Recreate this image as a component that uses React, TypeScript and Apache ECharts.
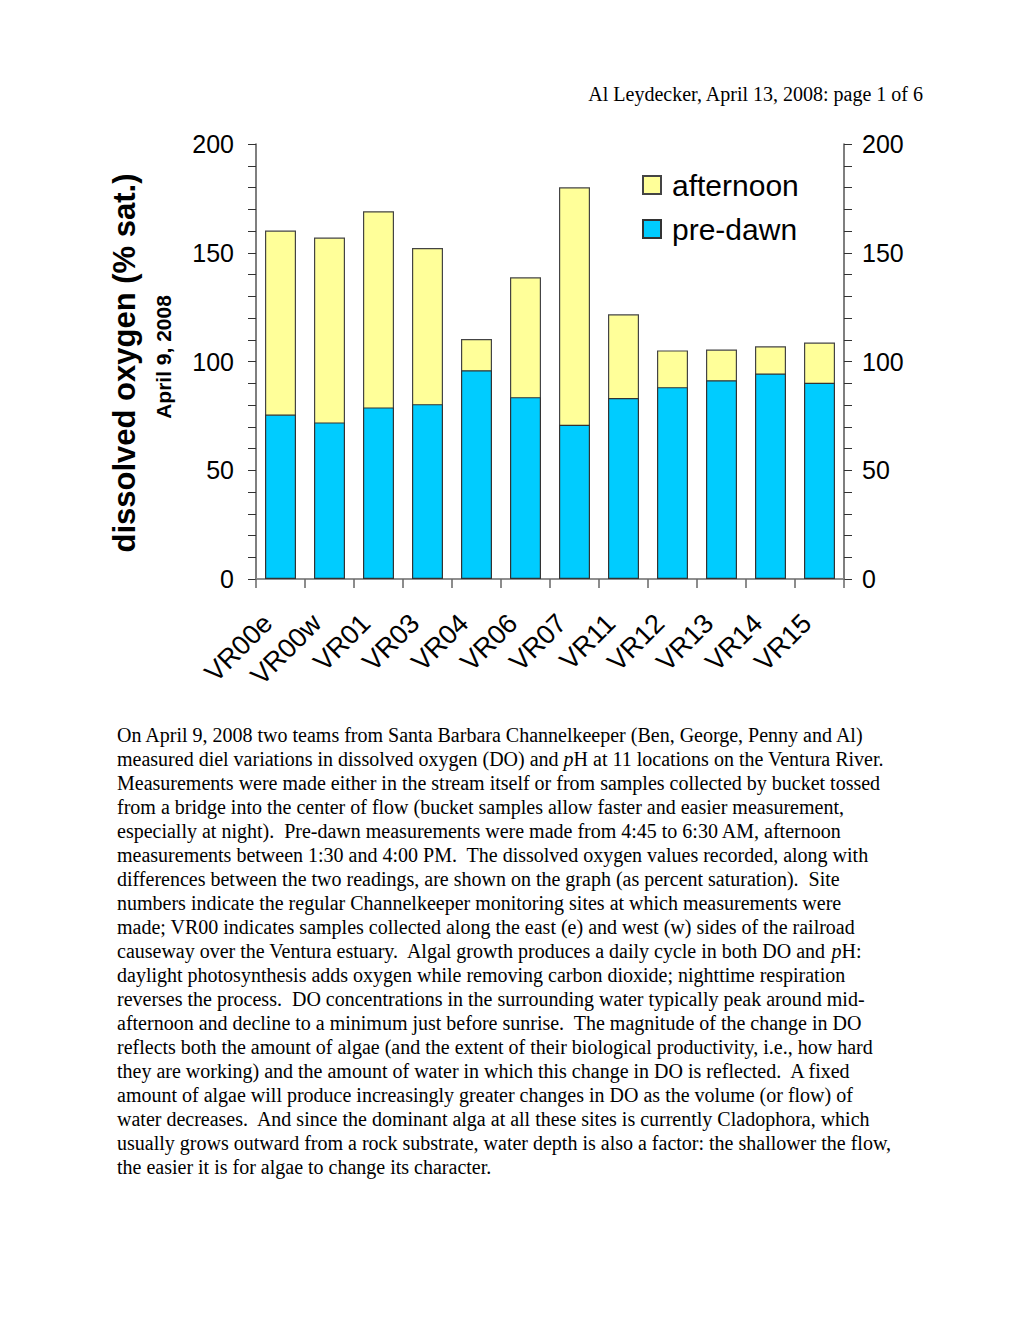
import React, { useEffect, useRef } from "react";
import * as echarts from "echarts";

const sites = ["VR00e", "VR00w", "VR01", "VR03", "VR04", "VR06", "VR07", "VR11", "VR12", "VR13", "VR14", "VR15"];
const preDawn = [75.6, 72.0, 78.9, 80.4, 96.0, 83.6, 70.9, 83.2, 88.2, 91.4, 94.5, 90.2];
const afternoon = [160.2, 157.0, 169.1, 152.2, 110.3, 138.7, 180.1, 121.7, 105.1, 105.5, 107.0, 108.7];
const yTicks = { min: 0, max: 200, interval: 50 };

const headerText = "Al Leydecker, April 13, 2008: page 1 of 6";
const paragraphLines = [
  "On April 9, 2008 two teams from Santa Barbara Channelkeeper (Ben, George, Penny and Al)",
  "measured diel variations in dissolved oxygen (DO) and {i|p}H at 11 locations on the Ventura River.",
  "Measurements were made either in the stream itself or from samples collected by bucket tossed",
  "from a bridge into the center of flow (bucket samples allow faster and easier measurement,",
  "especially at night).  Pre-dawn measurements were made from 4:45 to 6:30 AM, afternoon",
  "measurements between 1:30 and 4:00 PM.  The dissolved oxygen values recorded, along with",
  "differences between the two readings, are shown on the graph (as percent saturation).  Site",
  "numbers indicate the regular Channelkeeper monitoring sites at which measurements were",
  "made; VR00 indicates samples collected along the east (e) and west (w) sides of the railroad",
  "causeway over the Ventura estuary.  Algal growth produces a daily cycle in both DO and {i|p}H:",
  "daylight photosynthesis adds oxygen while removing carbon dioxide; nighttime respiration",
  "reverses the process.  DO concentrations in the surrounding water typically peak around mid-",
  "afternoon and decline to a minimum just before sunrise.  The magnitude of the change in DO",
  "reflects both the amount of algae (and the extent of their biological productivity, i.e., how hard",
  "they are working) and the amount of water in which this change in DO is reflected.  A fixed",
  "amount of algae will produce increasingly greater changes in DO as the volume (or flow) of",
  "water decreases.  And since the dominant alga at all these sites is currently Cladophora, which",
  "usually grows outward from a rock substrate, water depth is also a factor: the shallower the flow,",
  "the easier it is for algae to change its character.",
];

const SANS = "Liberation Sans, Arial, Helvetica, sans-serif";
const SERIF = "Liberation Serif, Times New Roman, serif";

export default function App() {
  const ref = useRef<HTMLDivElement>(null);
  useEffect(() => {
    document.body.style.margin = "0";
    if (!ref.current) return;
    const chart = echarts.init(ref.current, null, { renderer: "svg" });
    const axisLine = { show: true, lineStyle: { color: "#555", width: 1.5 } };
    const tickStyle = { color: "#333", width: 1 };
    const yAxisCommon = {
      type: "value" as const,
      min: yTicks.min,
      max: yTicks.max,
      interval: yTicks.interval,
      axisLine,
      axisTick: { show: true, inside: false, length: 8, lineStyle: tickStyle },
      minorTick: { show: true, splitNumber: 5, length: 8, lineStyle: tickStyle },
      splitLine: { show: false },
      minorSplitLine: { show: false },
      axisLabel: { fontSize: 25, fontFamily: SANS, color: "#000" },
    };
    const paragraphGraphics = paragraphLines.map((line, i) => ({
      type: "text",
      x: 117,
      y: 735 + i * 24,
      style: {
        text: line,
        fontSize: 20,
        fontFamily: SERIF,
        fill: "#000",
        verticalAlign: "middle",
        rich: { i: { fontStyle: "italic", fontSize: 20, fontFamily: SERIF, fill: "#000" } },
      },
    }));
    chart.setOption({
      animation: false,
      backgroundColor: "#fff",
      grid: { left: 256, right: 176, top: 144, bottom: 741, containLabel: false },
      legend: {
        data: ["afternoon", "pre-dawn"],
        orient: "vertical",
        left: 642,
        top: 170,
        padding: 0,
        itemWidth: 18,
        itemHeight: 18,
        itemGap: 14,
        icon: "rect",
        textStyle: { fontSize: 30, fontFamily: SANS, color: "#000", lineHeight: 30, padding: [0, 0, 0, 6] },
      },
      xAxis: [
        {
          type: "category",
          data: sites,
          position: "bottom",
          axisLine: { show: true, lineStyle: { color: "#000", width: 1.5 } },
          axisTick: { show: true, alignWithLabel: false, inside: false, length: 9, lineStyle: { color: "#666", width: 1.5 } },
          axisLabel: {
            rotate: 45,
            interval: 0,
            hideOverlap: false,
            fontSize: 27,
            fontFamily: SANS,
            color: "#000",
            margin: 27,
            padding: [0, 18, 0, 0],
          },
        },
        {
          type: "category",
          data: sites,
          position: "top",
          axisLine: { show: true, lineStyle: { color: "#aaa", width: 1.5 } },
          axisTick: { show: false },
          axisLabel: { show: false },
        },
      ],
      yAxis: [
        { ...yAxisCommon, position: "left", axisLabel: { ...yAxisCommon.axisLabel, margin: 22 } },
        { ...yAxisCommon, position: "right", axisLabel: { ...yAxisCommon.axisLabel, margin: 18 } },
      ],
      series: [
        {
          name: "afternoon",
          type: "bar",
          data: afternoon,
          barWidth: 31,
          barGap: "-100%",
          itemStyle: { color: "#FFFF99", borderColor: "#444", borderWidth: 1.2 },
        },
        {
          name: "pre-dawn",
          type: "bar",
          data: preDawn,
          barWidth: 31,
          barGap: "-100%",
          itemStyle: { color: "#00CCFF", borderColor: "#333", borderWidth: 1.2 },
        },
      ],
      graphic: [
        {
          type: "text",
          x: 923,
          y: 94,
          style: { text: headerText, fontSize: 20, fontFamily: SERIF, fill: "#000", align: "right", verticalAlign: "middle" },
        },
        {
          type: "text",
          x: 124,
          y: 363,
          rotation: Math.PI / 2,
          style: { text: "dissolved oxygen (% sat.)", fontSize: 31, fontWeight: "bold", fontFamily: SANS, fill: "#000", align: "center", verticalAlign: "middle" },
        },
        {
          type: "text",
          x: 163,
          y: 357,
          rotation: Math.PI / 2,
          style: { text: "April 9, 2008", fontSize: 21, fontWeight: "bold", fontFamily: SANS, fill: "#000", align: "center", verticalAlign: "middle" },
        },
        ...paragraphGraphics,
      ],
    });
    return () => chart.dispose();
  }, []);
  return <div ref={ref} style={{ width: 1020, height: 1320 }} />;
}
